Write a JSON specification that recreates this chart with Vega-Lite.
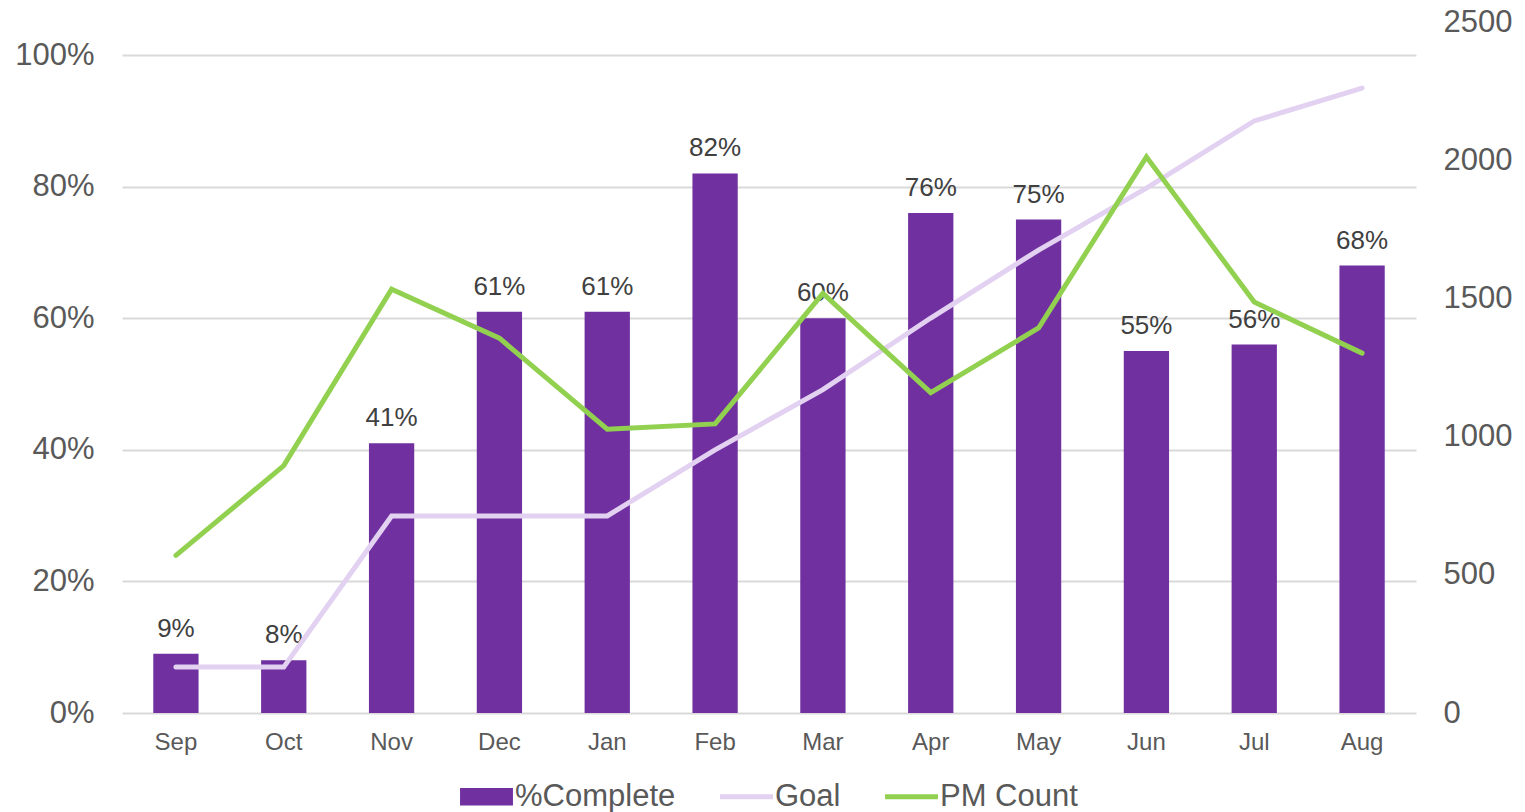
{
  "$schema": "https://vega.github.io/schema/vega-lite/v6.json",
  "autosize": "none",
  "width": 1294,
  "height": 691,
  "padding": {"left": 122, "top": 22, "right": 109, "bottom": 99},
  "background": "white",
  "config": {
    "view": {"stroke": null},
    "font": "Liberation Sans"
  },
  "data": {
    "values": [
      {"month": "Sep", "pct": 0.09, "Goal": 166, "PM Count": 570},
      {"month": "Oct", "pct": 0.08, "Goal": 166, "PM Count": 895},
      {"month": "Nov", "pct": 0.41, "Goal": 713, "PM Count": 1533},
      {"month": "Dec", "pct": 0.61, "Goal": 713, "PM Count": 1356},
      {"month": "Jan", "pct": 0.61, "Goal": 713, "PM Count": 1027},
      {"month": "Feb", "pct": 0.82, "Goal": 952, "PM Count": 1046},
      {"month": "Mar", "pct": 0.60, "Goal": 1170, "PM Count": 1518},
      {"month": "Apr", "pct": 0.76, "Goal": 1429, "PM Count": 1159},
      {"month": "May", "pct": 0.75, "Goal": 1675, "PM Count": 1393},
      {"month": "Jun", "pct": 0.55, "Goal": 1899, "PM Count": 2012},
      {"month": "Jul", "pct": 0.56, "Goal": 2142, "PM Count": 1487},
      {"month": "Aug", "pct": 0.68, "Goal": 2261, "PM Count": 1302}
    ]
  },
  "encoding": {
    "x": {
      "field": "month",
      "type": "nominal",
      "sort": null,
      "scale": {"paddingInner": 0.58, "paddingOuter": 0.29},
      "axis": {
        "title": null,
        "labelAngle": 0,
        "labelFontSize": 24,
        "labelColor": "#595959",
        "labelPadding": 17,
        "ticks": false,
        "domain": false,
        "grid": false
      }
    }
  },
  "layer": [
    {
      "layer": [
        {
          "mark": {"type": "bar"},
          "encoding": {
            "y": {
              "field": "pct",
              "type": "quantitative",
              "scale": {"domain": [0, 1.0502], "nice": false, "zero": true},
              "axis": {
                "title": null,
                "orient": "left",
                "values": [0, 0.2, 0.4, 0.6, 0.8, 1.0],
                "format": ".0%",
                "labelFontSize": 31,
                "labelColor": "#595959",
                "labelPadding": 28,
                "ticks": false,
                "domain": false,
                "grid": true,
                "gridColor": "#D9D9D9",
                "gridWidth": 2
              }
            },
            "color": {"datum": "%Complete", "type": "nominal"}
          }
        },
        {
          "mark": {"type": "text", "fontSize": 26, "color": "#404040", "baseline": "alphabetic", "dy": -17},
          "encoding": {
            "y": {"field": "pct", "type": "quantitative"},
            "text": {"field": "pct", "type": "quantitative", "format": ".0%"}
          }
        }
      ]
    },
    {
      "transform": [{"fold": ["Goal", "PM Count"], "as": ["series", "value"]}],
      "mark": {"type": "line", "strokeWidth": 5, "strokeCap": "round"},
      "encoding": {
        "y": {
          "field": "value",
          "type": "quantitative",
          "scale": {"domain": [0, 2500], "nice": false},
          "axis": {
            "title": null,
            "orient": "right",
            "values": [0, 500, 1000, 1500, 2000, 2500],
            "format": "d",
            "labelFontSize": 31,
            "labelColor": "#595959",
            "labelPadding": 27,
            "ticks": false,
            "domain": false,
            "grid": false
          }
        },
        "color": {
          "field": "series",
          "type": "nominal",
          "scale": {
            "domain": ["%Complete", "Goal", "PM Count"],
            "range": ["#7030A0", "#E2D1F1", "#92D050"]
          },
          "legend": {
            "title": null,
            "orient": "none",
            "direction": "horizontal",
            "legendX": 349,
            "legendY": 759,
            "labelFontSize": 31,
            "labelColor": "#595959",
            "labelOffset": 13,
            "labelLimit": 400,
            "columnPadding": 34,
            "symbolSize": 2800,
            "symbolType": {"expr": "datum.value == '%Complete' ? 'M-1,-0.33L1,-0.33L1,0.33L-1,0.33Z' : 'stroke'"},
            "symbolStrokeWidth": {"expr": "datum.value == '%Complete' ? 0 : 5"}
          }
        }
      }
    }
  ],
  "resolve": {"scale": {"y": "independent"}, "axis": {"y": "independent"}}
}
